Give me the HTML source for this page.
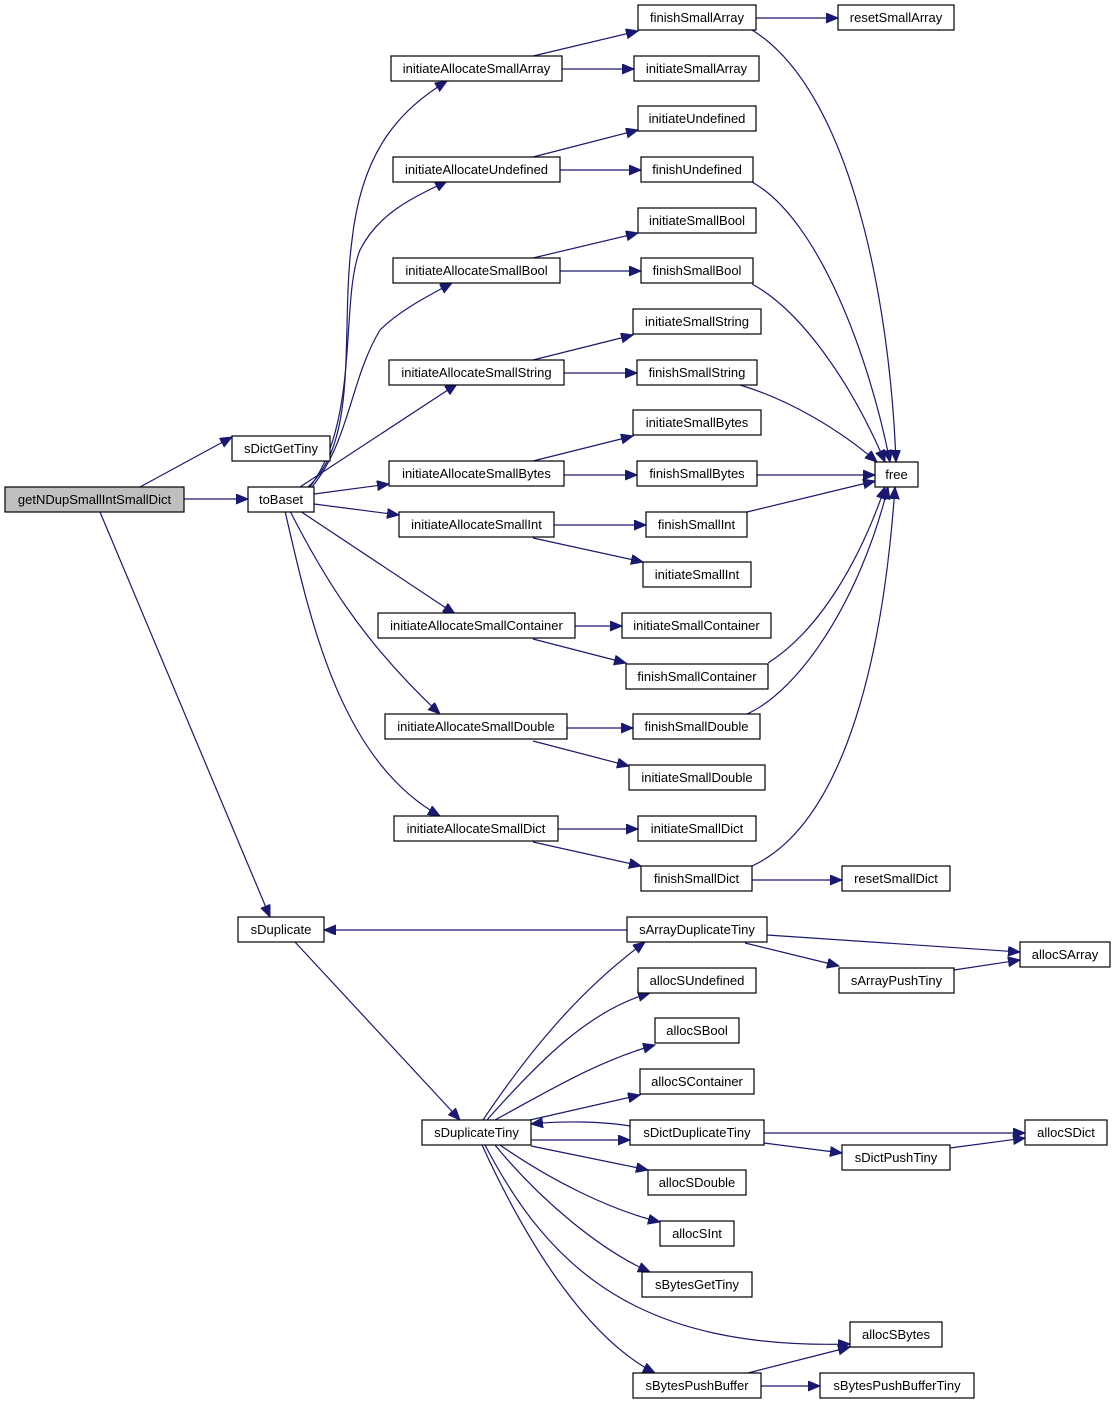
<!DOCTYPE html>
<html><head><meta charset="utf-8"><style>
html,body{margin:0;padding:0;background:#fff}
svg{display:block}
text{font-family:"Liberation Sans",Arial,sans-serif;font-size:13px;fill:#000;text-anchor:middle}
rect{fill:#fff;stroke:#000;stroke-width:1.2}
path{fill:none;stroke:#191970;stroke-width:1.2}
</style></head><body>
<svg width="1116" height="1405" viewBox="0 0 1116 1405" xmlns="http://www.w3.org/2000/svg">
<defs><marker id="a" markerUnits="userSpaceOnUse" markerWidth="14" markerHeight="11" refX="12" refY="5" orient="auto"><polygon points="0,0 12,5 0,10" fill="#191970" stroke="#191970"/></marker></defs>
<g marker-end="url(#a)">
<path d="M140,487 L232,437"/>
<path d="M184,499 L248,499"/>
<path d="M100,512 L270,917"/>
<path d="M308,487 C360,440 340,330 352,240 C362,150 400,110 447,81"/>
<path d="M310,487 C360,420 340,300 360,250 C380,210 420,195 447,181"/>
<path d="M312,487 C350,440 350,380 380,330 C400,310 430,295 452,283"/>
<path d="M300,487 L457,384"/>
<path d="M314,494 L389,484"/>
<path d="M314,504 L399,515"/>
<path d="M300,511 L455,614"/>
<path d="M290,511 C320,570 360,640 440,714"/>
<path d="M285,511 C310,620 340,760 440,816"/>
<path d="M533,56 L638,31"/>
<path d="M562,69 L634,69"/>
<path d="M756,18 L838,18"/>
<path d="M752,30 C850,90 890,300 896,462"/>
<path d="M533,157 L638,130"/>
<path d="M560,170 L641,170"/>
<path d="M752,182 C820,220 870,360 890,462"/>
<path d="M533,258 L638,233"/>
<path d="M560,271 L641,271"/>
<path d="M752,284 C800,310 850,380 885,462"/>
<path d="M533,360 L633,335"/>
<path d="M564,373 L637,373"/>
<path d="M740,385 C790,400 840,430 877,462"/>
<path d="M533,461 L633,436"/>
<path d="M564,475 L637,475"/>
<path d="M757,475 L875,475"/>
<path d="M554,525 L646,525"/>
<path d="M533,538 L643,562"/>
<path d="M747,512 L875,481"/>
<path d="M575,626 L622,626"/>
<path d="M533,639 L626,663"/>
<path d="M768,663 C820,630 860,560 885,487"/>
<path d="M567,728 L633,728"/>
<path d="M533,741 L629,766"/>
<path d="M747,714 C800,690 860,600 888,487"/>
<path d="M558,829 L638,829"/>
<path d="M533,842 L641,866"/>
<path d="M752,866 C830,830 880,700 895,487"/>
<path d="M752,880 L842,880"/>
<path d="M627,930 L324,930"/>
<path d="M295,942 L460,1120"/>
<path d="M483,1120 C530,1050 580,990 645,942"/>
<path d="M487,1120 C540,1060 590,1010 650,993"/>
<path d="M495,1120 C550,1090 600,1060 655,1045"/>
<path d="M530,1120 L640,1095"/>
<path d="M531,1140 L630,1140"/>
<path d="M630,1126 C600,1121 560,1121 531,1124"/>
<path d="M531,1146 L648,1170"/>
<path d="M500,1145 C550,1180 610,1210 660,1222"/>
<path d="M495,1145 C540,1200 600,1250 650,1272"/>
<path d="M485,1145 C550,1270 640,1350 850,1344"/>
<path d="M482,1145 C530,1250 590,1340 655,1373"/>
<path d="M767,935 L1020,952"/>
<path d="M745,943 L839,966"/>
<path d="M954,970 L1020,960"/>
<path d="M764,1133 L1025,1133"/>
<path d="M764,1143 L842,1153"/>
<path d="M950,1148 L1025,1138"/>
<path d="M748,1373 L850,1347"/>
<path d="M761,1386 L820,1386"/>
</g>
<g>
<rect x="5" y="487" width="179" height="25" style="fill:#bfbfbf"/><text x="94.5" y="504">getNDupSmallIntSmallDict</text>
<rect x="232" y="436" width="98" height="25"/><text x="281" y="453">sDictGetTiny</text>
<rect x="248" y="487" width="66" height="25"/><text x="281" y="504">toBaset</text>
<rect x="238" y="917" width="86" height="25"/><text x="281" y="934">sDuplicate</text>
<rect x="422" y="1120" width="109" height="25"/><text x="476.5" y="1137">sDuplicateTiny</text>
<rect x="391" y="56" width="171" height="25"/><text x="476.5" y="73">initiateAllocateSmallArray</text>
<rect x="393" y="157" width="167" height="25"/><text x="476.5" y="174">initiateAllocateUndefined</text>
<rect x="393" y="258" width="167" height="25"/><text x="476.5" y="275">initiateAllocateSmallBool</text>
<rect x="389" y="360" width="175" height="25"/><text x="476.5" y="377">initiateAllocateSmallString</text>
<rect x="389" y="461" width="175" height="25"/><text x="476.5" y="478">initiateAllocateSmallBytes</text>
<rect x="399" y="512" width="155" height="25"/><text x="476.5" y="529">initiateAllocateSmallInt</text>
<rect x="378" y="613" width="197" height="25"/><text x="476.5" y="630">initiateAllocateSmallContainer</text>
<rect x="385" y="714" width="182" height="25"/><text x="476" y="731">initiateAllocateSmallDouble</text>
<rect x="394" y="816" width="164" height="25"/><text x="476" y="833">initiateAllocateSmallDict</text>
<rect x="638" y="5" width="118" height="25"/><text x="697" y="22">finishSmallArray</text>
<rect x="838" y="5" width="116" height="25"/><text x="896" y="22">resetSmallArray</text>
<rect x="634" y="56" width="125" height="25"/><text x="696.5" y="73">initiateSmallArray</text>
<rect x="638" y="106" width="118" height="25"/><text x="697" y="123">initiateUndefined</text>
<rect x="641" y="157" width="112" height="25"/><text x="697" y="174">finishUndefined</text>
<rect x="638" y="208" width="118" height="25"/><text x="697" y="225">initiateSmallBool</text>
<rect x="641" y="258" width="112" height="25"/><text x="697" y="275">finishSmallBool</text>
<rect x="633" y="309" width="128" height="25"/><text x="697" y="326">initiateSmallString</text>
<rect x="637" y="360" width="120" height="25"/><text x="697" y="377">finishSmallString</text>
<rect x="633" y="410" width="128" height="25"/><text x="697" y="427">initiateSmallBytes</text>
<rect x="637" y="461" width="120" height="25"/><text x="697" y="478">finishSmallBytes</text>
<rect x="875" y="462" width="43" height="25"/><text x="896.5" y="479">free</text>
<rect x="646" y="512" width="101" height="25"/><text x="696.5" y="529">finishSmallInt</text>
<rect x="643" y="562" width="108" height="25"/><text x="697" y="579">initiateSmallInt</text>
<rect x="622" y="613" width="149" height="25"/><text x="696.5" y="630">initiateSmallContainer</text>
<rect x="626" y="664" width="142" height="25"/><text x="697" y="681">finishSmallContainer</text>
<rect x="633" y="714" width="127" height="25"/><text x="696.5" y="731">finishSmallDouble</text>
<rect x="629" y="765" width="136" height="25"/><text x="697" y="782">initiateSmallDouble</text>
<rect x="638" y="816" width="118" height="25"/><text x="697" y="833">initiateSmallDict</text>
<rect x="641" y="866" width="111" height="25"/><text x="696.5" y="883">finishSmallDict</text>
<rect x="842" y="866" width="108" height="25"/><text x="896" y="883">resetSmallDict</text>
<rect x="627" y="917" width="140" height="25"/><text x="697" y="934">sArrayDuplicateTiny</text>
<rect x="1020" y="942" width="90" height="25"/><text x="1065" y="959">allocSArray</text>
<rect x="839" y="968" width="115" height="25"/><text x="896.5" y="985">sArrayPushTiny</text>
<rect x="638" y="968" width="118" height="25"/><text x="697" y="985">allocSUndefined</text>
<rect x="655" y="1018" width="84" height="25"/><text x="697" y="1035">allocSBool</text>
<rect x="640" y="1069" width="114" height="25"/><text x="697" y="1086">allocSContainer</text>
<rect x="630" y="1120" width="134" height="25"/><text x="697" y="1137">sDictDuplicateTiny</text>
<rect x="1025" y="1120" width="82" height="25"/><text x="1066" y="1137">allocSDict</text>
<rect x="842" y="1145" width="108" height="25"/><text x="896" y="1162">sDictPushTiny</text>
<rect x="648" y="1170" width="98" height="25"/><text x="697" y="1187">allocSDouble</text>
<rect x="660" y="1221" width="74" height="25"/><text x="697" y="1238">allocSInt</text>
<rect x="642" y="1272" width="110" height="25"/><text x="697" y="1289">sBytesGetTiny</text>
<rect x="850" y="1322" width="92" height="25"/><text x="896" y="1339">allocSBytes</text>
<rect x="633" y="1373" width="128" height="25"/><text x="697" y="1390">sBytesPushBuffer</text>
<rect x="820" y="1373" width="154" height="25"/><text x="897" y="1390">sBytesPushBufferTiny</text>
</g>
</svg>
</body></html>
